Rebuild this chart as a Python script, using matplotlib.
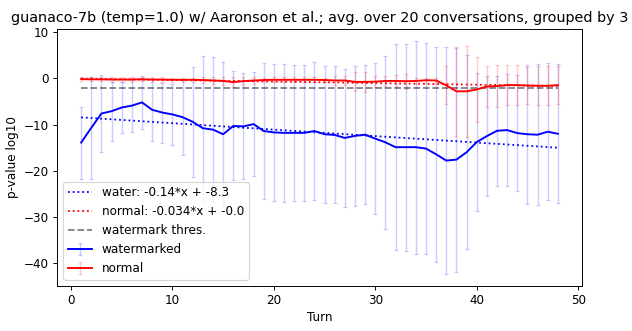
import numpy as np
import matplotlib
matplotlib.use("Agg")
import matplotlib.pyplot as plt

turns = list(range(1, 49))

water_mean = [-13.9, -10.7, -7.6, -7.1, -6.3, -5.9, -5.2, -6.8, -7.4, -7.8,
              -8.4, -9.4, -10.8, -11.1, -12.1, -10.3, -10.4, -9.9, -11.4, -11.7,
              -11.8, -11.8, -11.8, -11.4, -12.1, -12.25, -12.9, -12.45, -12.2, -13.05,
              -13.85, -14.9, -14.9, -14.9, -15.2, -16.45, -17.8, -17.6, -16.0, -13.8,
              -12.5, -11.35, -11.2, -11.85, -12.1, -12.2, -11.55, -12.0]
water_err = [7.8, 11.1, 8.3, 6.4, 5.6, 5.8, 5.7, 6.7, 6.5, 6.6,
             8.1, 11.9, 15.6, 15.7, 15.7, 11.8, 11.5, 11.2, 14.7, 14.8,
             14.9, 14.8, 14.7, 14.9, 14.8, 14.85, 14.9, 15.1, 15.05, 16.3,
             18.7, 22.25, 22.4, 23.05, 22.9, 23.3, 24.65, 24.25, 21.05, 14.95,
             12.95, 11.95, 12.15, 12.5, 15.1, 15.25, 14.9, 15.05]

normal_mean = [-0.15, -0.2, -0.2, -0.25, -0.25, -0.25, -0.2, -0.25, -0.25, -0.3,
               -0.3, -0.3, -0.35, -0.45, -0.55, -0.8, -0.6, -0.45, -0.35, -0.3,
               -0.3, -0.3, -0.3, -0.3, -0.35, -0.45, -0.45, -0.75, -0.75, -0.7,
               -0.55, -0.55, -0.6, -0.55, -0.4, -0.45, -1.5, -2.8, -2.8, -2.4,
               -1.75, -1.65, -1.45, -1.45, -1.55, -1.6, -1.6, -1.45]
normal_err = [0.45, 0.45, 0.45, 0.45, 0.45, 0.45, 0.45, 0.45, 0.45, 0.45,
              0.45, 0.45, 0.7, 0.8, 0.9, 1.0, 0.9, 0.8, 0.5, 0.5,
              0.5, 0.5, 0.5, 0.5, 0.5, 0.9, 1.0, 2.05, 2.1, 1.2,
              1.15, 1.35, 1.6, 0.6, 0.5, 0.5, 4.1, 9.6, 9.9, 7.0,
              4.35, 4.45, 4.35, 4.3, 4.1, 4.2, 4.2, 4.2]

water_fit = (-0.14, -8.3)
normal_fit = (-0.034, -0.0)
threshold = -2.0

title = "guanaco-7b (temp=1.0) w/ Aaronson et al.; avg. over 20 conversations, grouped by 3"

x = np.array(turns)

DPI = 86
fig = plt.figure(figsize=(632 / DPI, 331 / DPI), dpi=DPI)
ax = fig.add_axes([0.0907, 0.136, 0.8297, 0.776])

ax.plot(x, water_fit[0] * x + water_fit[1], ':', color='blue', lw=1.5,
        label=f"water: {water_fit[0]}*x + {water_fit[1]}")
ax.plot(x, normal_fit[0] * x + normal_fit[1], ':', color='red', lw=1.5,
        label=f"normal: {normal_fit[0]}*x + {normal_fit[1]}")
ax.plot(x, np.full(len(x), threshold), '--', color='gray', lw=1.5,
        label="watermark thres.")
ax.errorbar(x, water_mean, yerr=water_err, color='blue', lw=1.6,
            ecolor=(0, 0, 1, 0.2), elinewidth=1.2, capsize=2, label="watermarked")
ax.errorbar(x, normal_mean, yerr=normal_err, color='red', lw=1.6,
            ecolor=(1, 0, 0, 0.2), elinewidth=1.2, capsize=2, label="normal")

ax.set_title(title, fontsize=12)
ax.set_xlabel("Turn", labelpad=3)
ax.set_ylabel("p-value log10")
ax.set_xticks([0, 10, 20, 30, 40, 50])
ax.set_yticks([10, 0, -10, -20, -30, -40])
ax.legend(loc='lower left')

fig.savefig("out.png", dpi=DPI)
